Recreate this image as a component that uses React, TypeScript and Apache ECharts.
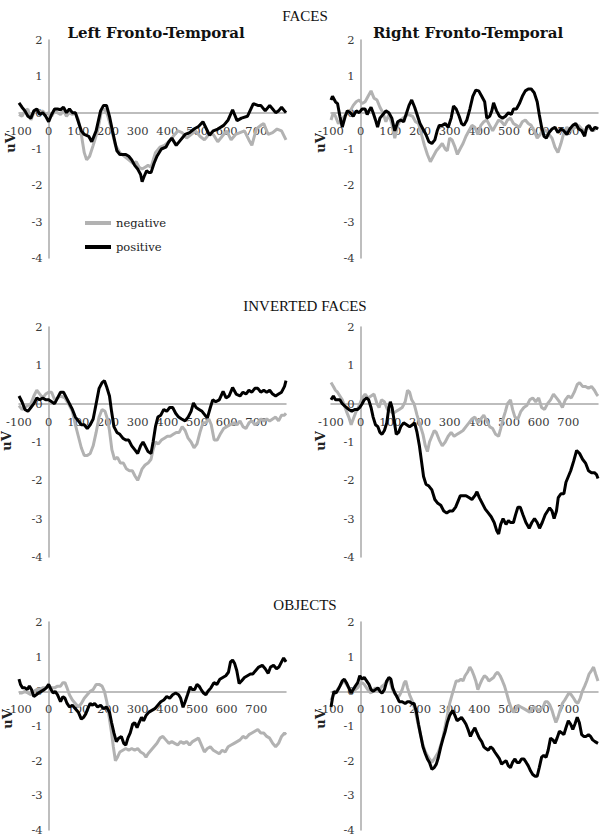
import React, { useEffect, useRef } from 'react';
import * as echarts from 'echarts';

// ---------- data (time in ms, amplitude in uV) ----------
const sectionTitles = ['FACES', 'INVERTED FACES', 'OBJECTS'];
const columnTitles = ['Left Fronto-Temporal', 'Right Fronto-Temporal'];
const seriesNames = ['negative', 'positive'];
const yTicks = [2, 1, 0, -1, -2, -3, -4];
const xTicks = [-100, 0, 100, 200, 300, 400, 500, 600, 700];
const X_MAX = 800;

const facesLeftNeg = [[-100,-0.05],[-90,-0.1],[-80,0.05],[-70,0.1],[-60,-0.2],[-50,0.0],[-40,0.1],[-30,0.0],[-20,0.05],[-10,-0.05],[0,0.0],[10,-0.1],[20,0.05],[30,0.0],[40,-0.05],[50,0.05],[60,-0.1],[70,0.0],[80,-0.05],[90,0.0],[100,-0.2],[110,-0.6],[120,-1.1],[128,-1.3],[138,-1.2],[150,-0.9],[165,-0.5],[178,0.05],[188,0.1],[198,-0.05],[210,-0.4],[225,-0.9],[240,-1.1],[255,-1.2],[270,-1.3],[285,-1.4],[295,-1.35],[305,-1.5],[315,-1.55],[325,-1.5],[335,-1.45],[345,-1.5],[360,-1.1],[375,-0.95],[390,-0.9],[405,-0.8],[420,-0.65],[435,-0.5],[450,-0.55],[465,-0.7],[480,-0.6],[495,-0.5],[510,-0.65],[525,-0.75],[540,-0.6],[555,-0.6],[570,-0.8],[585,-0.65],[600,-0.5],[615,-0.75],[630,-0.6],[645,-0.55],[660,-0.5],[675,-0.75],[685,-0.9],[700,-0.45],[715,-0.35],[725,-0.3],[740,-0.6],[755,-0.55],[770,-0.45],[785,-0.5],[800,-0.75]];
const facesLeftPos = [[-100,0.27],[-90,0.15],[-80,0.05],[-70,-0.1],[-60,-0.15],[-50,0.05],[-40,0.1],[-30,-0.05],[-20,0.0],[-10,-0.1],[0,-0.25],[10,-0.05],[20,0.1],[30,0.1],[40,0.08],[50,0.15],[60,0.0],[70,0.1],[80,0.0],[90,0.0],[100,-0.25],[110,-0.5],[120,-0.6],[135,-0.65],[145,-0.8],[160,-0.5],[175,0.05],[185,0.2],[195,0.2],[205,-0.1],[215,-0.5],[230,-1.05],[240,-1.15],[250,-1.15],[260,-1.15],[270,-1.2],[280,-1.3],[290,-1.45],[300,-1.55],[310,-1.7],[315,-1.9],[322,-1.75],[330,-1.6],[338,-1.65],[345,-1.65],[355,-1.4],[365,-1.2],[380,-1.0],[395,-0.95],[405,-0.8],[415,-0.7],[430,-0.9],[445,-0.75],[460,-0.6],[475,-0.55],[490,-0.45],[505,-0.38],[520,-0.25],[532,-0.45],[542,-0.62],[555,-0.5],[570,-0.45],[590,-0.35],[605,-0.2],[620,0.08],[635,-0.22],[650,-0.15],[670,-0.1],[690,0.25],[705,0.2],[715,0.2],[730,0.05],[745,0.2],[755,0.1],[765,0.0],[775,0.05],[785,0.15],[795,0.05],[800,0.0]];

const facesRightNeg = [[-100,-0.2],[-92,0.0],[-85,-0.1],[-75,-0.3],[-65,-0.2],[-55,-0.1],[-45,0.0],[-35,0.05],[-25,0.2],[-15,0.3],[-5,0.35],[5,0.25],[15,0.3],[25,0.45],[35,0.6],[45,0.4],[55,0.35],[65,0.15],[75,0.0],[85,-0.25],[95,-0.05],[105,-0.3],[115,-0.7],[125,-0.35],[135,-0.2],[150,-0.1],[160,-0.05],[175,-0.1],[185,-0.25],[195,-0.3],[205,-0.6],[215,-0.9],[225,-1.15],[235,-1.35],[245,-1.2],[255,-1.05],[265,-0.95],[275,-0.85],[285,-1.0],[292,-1.05],[300,-0.7],[308,-0.75],[318,-0.95],[326,-1.15],[335,-1.0],[345,-0.85],[355,-0.65],[365,-0.5],[375,-0.35],[385,-0.4],[395,-0.6],[405,-0.35],[415,-0.25],[425,-0.2],[435,-0.35],[445,-0.5],[455,-0.35],[465,-0.2],[475,-0.25],[485,-0.35],[495,-0.2],[505,-0.15],[515,-0.3],[525,-0.35],[535,-0.4],[545,-0.25],[555,-0.2],[565,-0.3],[575,-0.35],[585,-0.5],[595,-0.7],[605,-0.6],[615,-0.45],[625,-0.5],[635,-0.6],[645,-0.7],[655,-0.95],[665,-1.1],[675,-0.85],[685,-0.55],[695,-0.4],[705,-0.5],[715,-0.45],[725,-0.4],[735,-0.35],[745,-0.45],[755,-0.5],[765,-0.4],[775,-0.45],[785,-0.5],[795,-0.4],[800,-0.45]];
const facesRightPos = [[-100,0.35],[-95,0.45],[-85,0.3],[-78,0.25],[-70,-0.1],[-62,-0.4],[-52,-0.1],[-45,0.05],[-35,0.0],[-25,-0.1],[-15,0.05],[-5,0.0],[5,0.1],[15,0.1],[22,-0.05],[28,0.05],[35,0.15],[42,0.0],[50,-0.2],[57,-0.4],[65,-0.15],[75,-0.05],[85,0.05],[95,0.0],[105,-0.15],[115,-0.5],[125,-0.25],[135,-0.2],[145,-0.25],[155,0.0],[163,0.2],[172,0.35],[182,0.15],[192,-0.1],[200,-0.3],[210,-0.45],[220,-0.6],[230,-0.8],[240,-0.85],[250,-0.75],[258,-0.5],[265,-0.35],[275,-0.35],[285,-0.3],[295,-0.4],[305,-0.15],[313,0.18],[322,0.1],[332,-0.1],[340,-0.3],[348,-0.35],[358,-0.2],[368,0.1],[378,0.45],[388,0.62],[398,0.6],[408,0.45],[418,0.3],[425,-0.15],[435,-0.1],[442,0.05],[448,0.27],[458,0.05],[468,-0.1],[478,-0.15],[488,-0.1],[498,0.0],[508,-0.05],[515,0.1],[525,0.1],[535,0.25],[545,0.45],[555,0.6],[565,0.65],[575,0.65],[585,0.55],[595,0.3],[602,-0.05],[610,-0.4],[618,-0.65],[626,-0.7],[635,-0.55],[645,-0.45],[655,-0.4],[665,-0.55],[675,-0.45],[685,-0.5],[695,-0.6],[705,-0.45],[715,-0.35],[725,-0.3],[735,-0.45],[745,-0.5],[755,-0.65],[762,-0.4],[770,-0.35],[780,-0.5],[790,-0.4],[800,-0.45]];

const invLeftNeg = [[-100,-0.05],[-90,-0.15],[-80,-0.1],[-70,-0.05],[-60,0.0],[-50,0.2],[-40,0.35],[-30,0.25],[-20,0.15],[-10,0.25],[0,0.3],[10,0.3],[20,0.1],[30,0.15],[40,0.2],[55,0.15],[70,-0.05],[80,-0.2],[90,-0.55],[100,-0.85],[110,-1.15],[120,-1.35],[130,-1.35],[140,-1.3],[150,-1.1],[160,-0.75],[170,-0.35],[180,-0.15],[190,-0.2],[198,-0.4],[205,-0.7],[213,-1.2],[222,-1.45],[232,-1.4],[242,-1.55],[252,-1.55],[262,-1.7],[272,-1.75],[282,-1.75],[292,-1.9],[300,-2.0],[308,-1.85],[315,-1.7],[325,-1.6],[335,-1.55],[345,-1.45],[352,-1.2],[360,-1.0],[370,-1.05],[380,-0.95],[390,-0.9],[400,-0.85],[410,-0.85],[420,-0.8],[430,-0.75],[440,-0.75],[450,-0.6],[460,-0.7],[470,-0.9],[480,-1.0],[490,-1.15],[500,-1.05],[510,-0.75],[520,-0.5],[530,-0.5],[540,-0.4],[548,-0.55],[558,-0.95],[568,-0.95],[578,-0.8],[590,-0.65],[600,-0.6],[612,-0.55],[625,-0.5],[635,-0.55],[645,-0.45],[655,-0.6],[665,-0.65],[675,-0.5],[685,-0.45],[695,-0.55],[705,-0.5],[715,-0.4],[725,-0.45],[735,-0.4],[745,-0.45],[755,-0.4],[765,-0.35],[775,-0.45],[785,-0.3],[795,-0.3],[800,-0.25]];
const invLeftPos = [[-100,0.2],[-90,0.05],[-80,-0.15],[-70,-0.2],[-60,-0.1],[-50,0.0],[-40,0.15],[-30,0.1],[-20,0.15],[-10,0.1],[0,0.1],[10,0.05],[20,0.0],[30,0.15],[40,0.3],[50,0.3],[60,0.15],[70,0.0],[80,-0.15],[90,-0.35],[100,-0.45],[110,-0.55],[120,-0.55],[130,-0.65],[140,-0.55],[150,-0.4],[160,0.0],[170,0.4],[180,0.55],[188,0.6],[195,0.45],[205,0.2],[212,-0.2],[220,-0.6],[230,-0.75],[240,-0.8],[250,-0.9],[260,-0.95],[270,-0.95],[280,-1.1],[290,-1.2],[300,-1.3],[310,-1.1],[318,-1.0],[325,-1.1],[335,-1.25],[345,-1.3],[352,-1.0],[360,-0.6],[368,-0.35],[378,-0.3],[388,-0.15],[398,-0.2],[408,-0.1],[418,-0.1],[428,-0.25],[438,-0.35],[448,-0.4],[460,-0.45],[470,-0.35],[480,-0.2],[488,0.02],[497,-0.1],[507,-0.15],[517,-0.2],[527,-0.3],[535,-0.37],[545,-0.1],[553,0.1],[563,0.05],[575,0.1],[588,0.32],[598,0.15],[608,0.2],[620,0.42],[632,0.25],[645,0.2],[655,0.3],[665,0.25],[675,0.35],[685,0.3],[695,0.4],[705,0.4],[715,0.3],[725,0.35],[735,0.3],[745,0.35],[755,0.25],[765,0.2],[775,0.25],[785,0.3],[795,0.45],[800,0.6]];

const invRightNeg = [[-100,0.55],[-92,0.45],[-85,0.35],[-78,0.3],[-70,0.2],[-62,0.1],[-55,-0.05],[-48,-0.2],[-40,-0.35],[-32,-0.55],[-25,-0.4],[-15,-0.2],[-5,-0.05],[5,0.15],[15,0.25],[25,0.15],[35,0.2],[45,0.25],[55,0.0],[62,-0.1],[70,0.1],[80,0.05],[90,-0.15],[100,-0.2],[110,-0.25],[120,-0.2],[130,-0.15],[140,-0.1],[150,0.05],[158,0.35],[165,0.3],[172,0.1],[180,0.0],[190,-0.3],[200,-0.55],[210,-0.8],[218,-1.1],[225,-1.25],[232,-1.0],[240,-0.85],[248,-0.7],[255,-0.75],[265,-0.95],[275,-1.1],[285,-1.0],[295,-0.85],[305,-0.75],[315,-0.85],[325,-0.8],[335,-0.75],[345,-0.7],[355,-0.6],[365,-0.5],[375,-0.4],[385,-0.35],[395,-0.5],[405,-0.4],[415,-0.3],[425,-0.45],[435,-0.6],[445,-0.65],[455,-0.8],[465,-0.85],[472,-0.65],[480,-0.4],[488,-0.2],[495,0.0],[505,0.1],[512,-0.15],[520,-0.35],[530,-0.4],[540,-0.2],[550,-0.1],[560,-0.05],[570,0.1],[580,0.15],[590,0.05],[600,0.15],[610,-0.1],[620,-0.15],[630,0.0],[640,0.1],[650,0.25],[660,0.15],[670,0.05],[680,-0.1],[690,0.1],[700,0.2],[710,0.15],[720,0.3],[730,0.5],[738,0.55],[748,0.45],[758,0.45],[768,0.4],[778,0.45],[788,0.35],[795,0.25],[800,0.2]];
const invRightPos = [[-100,0.1],[-92,0.2],[-85,0.1],[-78,0.1],[-70,0.1],[-62,0.0],[-55,-0.05],[-48,-0.1],[-40,-0.15],[-30,-0.2],[-20,-0.15],[-10,-0.15],[-3,-0.1],[5,0.0],[12,0.1],[20,0.15],[27,0.1],[35,-0.1],[42,-0.35],[50,-0.55],[58,-0.6],[65,-0.75],[72,-0.8],[80,-0.7],[88,-0.5],[95,-0.1],[100,0.05],[106,-0.1],[112,-0.4],[120,-0.8],[128,-0.75],[135,-0.6],[145,-0.5],[155,-0.55],[165,-0.6],[175,-0.55],[182,-0.5],[190,-0.75],[198,-1.1],[205,-1.5],[212,-1.9],[220,-2.1],[230,-2.15],[240,-2.25],[250,-2.5],[260,-2.6],[270,-2.65],[280,-2.8],[290,-2.85],[300,-2.8],[310,-2.8],[320,-2.7],[328,-2.55],[336,-2.4],[345,-2.4],[355,-2.4],[365,-2.45],[375,-2.5],[385,-2.4],[392,-2.3],[400,-2.45],[410,-2.6],[420,-2.75],[430,-2.85],[440,-2.95],[450,-3.1],[458,-3.3],[465,-3.4],[472,-3.15],[480,-3.0],[490,-3.15],[498,-3.05],[505,-3.1],[515,-3.1],[522,-2.9],[530,-2.7],[538,-2.7],[547,-2.9],[557,-3.1],[568,-3.25],[577,-3.1],[586,-3.0],[595,-3.1],[603,-3.25],[612,-3.1],[622,-2.9],[630,-2.8],[637,-2.72],[645,-2.8],[652,-3.0],[660,-2.8],[666,-2.45],[675,-2.35],[685,-2.35],[692,-2.05],[700,-1.9],[708,-1.75],[718,-1.5],[728,-1.22],[738,-1.3],[748,-1.45],[758,-1.55],[768,-1.75],[778,-1.8],[788,-1.8],[795,-1.85],[800,-1.95]];

const objLeftNeg = [[-100,-0.05],[-90,-0.05],[-80,0.0],[-70,-0.05],[-60,-0.1],[-50,0.0],[-40,0.05],[-30,0.05],[-20,0.1],[-10,0.1],[0,0.15],[10,0.1],[20,0.1],[30,0.15],[40,0.15],[48,0.25],[55,0.25],[62,0.1],[70,-0.1],[80,-0.25],[90,-0.35],[100,-0.45],[110,-0.35],[120,-0.2],[130,-0.1],[140,0.0],[150,0.05],[160,0.2],[170,0.2],[180,0.15],[188,0.0],[196,-0.3],[204,-0.75],[212,-1.2],[218,-1.6],[225,-2.0],[232,-1.9],[240,-1.75],[250,-1.7],[260,-1.65],[270,-1.7],[280,-1.65],[290,-1.7],[300,-1.65],[310,-1.75],[320,-1.8],[328,-1.9],[335,-1.8],[345,-1.7],[355,-1.6],[365,-1.5],[375,-1.35],[385,-1.3],[395,-1.4],[405,-1.5],[415,-1.45],[425,-1.5],[435,-1.55],[445,-1.45],[455,-1.5],[465,-1.45],[475,-1.55],[485,-1.45],[495,-1.4],[505,-1.35],[515,-1.55],[525,-1.75],[535,-1.65],[545,-1.6],[555,-1.7],[565,-1.75],[575,-1.8],[585,-1.7],[595,-1.75],[605,-1.6],[615,-1.55],[625,-1.5],[635,-1.45],[645,-1.4],[655,-1.3],[665,-1.35],[675,-1.25],[685,-1.2],[695,-1.15],[705,-1.1],[715,-1.2],[725,-1.2],[735,-1.3],[745,-1.35],[755,-1.5],[765,-1.6],[775,-1.5],[785,-1.3],[795,-1.2],[800,-1.25]];
const objLeftPos = [[-100,0.35],[-95,0.2],[-88,0.1],[-80,0.1],[-72,0.05],[-65,0.15],[-58,0.05],[-50,-0.15],[-42,-0.1],[-35,-0.05],[-25,0.0],[-15,0.05],[-8,0.1],[0,0.2],[8,0.05],[15,-0.05],[22,0.0],[30,-0.1],[40,-0.3],[48,-0.15],[55,-0.2],[62,-0.35],[70,-0.45],[80,-0.4],[90,-0.5],[100,-0.6],[110,-0.8],[118,-0.75],[125,-0.65],[132,-0.5],[140,-0.35],[148,-0.4],[155,-0.35],[165,-0.45],[175,-0.4],[185,-0.5],[195,-0.45],[205,-0.6],[212,-0.9],[220,-1.2],[228,-1.45],[236,-1.35],[245,-1.3],[253,-1.5],[260,-1.55],[267,-1.35],[275,-1.2],[283,-0.95],[290,-0.9],[298,-1.05],[305,-0.9],[313,-0.75],[320,-0.85],[328,-0.7],[338,-0.6],[348,-0.55],[358,-0.5],[368,-0.4],[378,-0.3],[388,-0.25],[398,-0.15],[408,-0.2],[418,-0.1],[428,-0.05],[438,-0.1],[445,-0.2],[453,-0.46],[460,-0.3],[468,-0.1],[477,0.13],[484,0.05],[492,0.05],[500,0.2],[507,0.15],[514,0.05],[522,-0.05],[530,-0.1],[537,0.0],[547,0.1],[557,0.25],[567,0.2],[577,0.35],[587,0.4],[597,0.45],[606,0.55],[613,0.85],[620,0.9],[627,0.8],[634,0.6],[642,0.23],[650,0.3],[660,0.4],[670,0.45],[680,0.5],[688,0.5],[698,0.6],[708,0.7],[720,0.75],[730,0.65],[740,0.52],[748,0.7],[758,0.75],[768,0.65],[776,0.7],[785,0.85],[792,0.96],[800,0.85]];

const objRightNeg = [[-100,-0.25],[-92,-0.1],[-85,-0.05],[-78,0.05],[-70,0.15],[-62,0.25],[-55,0.3],[-48,0.2],[-40,0.1],[-32,0.05],[-25,0.0],[-18,0.05],[-10,0.1],[-3,0.2],[5,0.25],[12,0.2],[20,0.1],[28,0.0],[35,-0.05],[42,0.05],[50,0.1],[58,0.05],[65,0.05],[72,0.15],[80,0.2],[88,0.3],[95,0.35],[102,0.2],[110,0.0],[118,-0.1],[125,-0.2],[132,-0.1],[140,0.05],[147,0.25],[152,0.3],[158,0.1],[165,-0.1],[175,-0.3],[185,-0.6],[195,-1.0],[203,-1.3],[210,-1.55],[218,-1.75],[225,-1.85],[232,-1.95],[240,-2.05],[248,-1.95],[255,-1.85],[262,-1.75],[270,-1.55],[278,-1.3],[285,-1.0],[292,-0.7],[300,-0.35],[308,-0.1],[315,0.1],[322,0.3],[330,0.3],[338,0.35],[345,0.3],[352,0.45],[360,0.55],[368,0.7],[375,0.6],[382,0.45],[388,0.3],[395,0.05],[402,0.2],[410,0.35],[417,0.45],[425,0.4],[432,0.3],[440,0.35],[448,0.4],[455,0.5],[462,0.55],[470,0.45],[478,0.3],[485,0.15],[492,-0.05],[500,-0.3],[508,-0.5],[515,-0.6],[522,-0.55],[530,-0.4],[540,-0.45],[550,-0.5],[560,-0.55],[570,-0.6],[578,-0.5],[585,-0.45],[593,-0.5],[600,-0.55],[608,-0.5],[615,-0.45],[622,-0.3],[630,-0.3],[638,-0.4],[645,-0.55],[652,-0.75],[658,-0.9],[665,-0.75],[672,-0.55],[680,-0.35],[688,-0.25],[695,-0.15],[702,-0.05],[710,-0.1],[718,-0.2],[725,-0.3],[732,-0.35],[740,-0.2],[747,0.0],[755,0.15],[762,0.3],[770,0.5],[778,0.6],[785,0.7],[792,0.5],[800,0.3]];
const objRightPos = [[-100,-0.45],[-95,-0.2],[-90,0.0],[-83,-0.05],[-76,0.05],[-70,0.15],[-62,0.3],[-55,0.35],[-48,0.25],[-40,0.1],[-32,-0.05],[-25,0.05],[-18,0.15],[-10,0.25],[-3,0.45],[5,0.35],[12,0.4],[20,0.3],[28,0.2],[35,0.05],[42,0.0],[50,0.05],[58,0.1],[65,0.0],[72,-0.05],[80,0.05],[88,0.3],[95,0.4],[102,0.35],[108,0.1],[115,-0.05],[122,-0.15],[130,-0.3],[140,-0.3],[150,-0.35],[158,-0.3],[165,-0.3],[172,-0.35],[180,-0.35],[188,-0.6],[195,-0.95],[203,-1.3],[210,-1.6],[218,-1.8],[225,-1.95],[232,-2.05],[240,-2.25],[248,-2.2],[255,-2.1],[262,-1.9],[270,-1.6],[278,-1.35],[285,-1.15],[292,-0.9],[300,-0.7],[310,-0.55],[318,-0.7],[325,-0.85],[333,-0.8],[340,-0.75],[348,-0.85],[355,-0.95],[362,-1.1],[370,-1.3],[378,-1.15],[385,-1.05],[392,-1.2],[400,-1.35],[408,-1.45],[415,-1.6],[422,-1.65],[430,-1.7],[438,-1.6],[445,-1.65],[452,-1.75],[460,-1.85],[468,-1.95],[475,-2.1],[482,-2.05],[490,-2.0],[498,-2.15],[505,-2.2],[512,-2.05],[520,-1.95],[527,-2.05],[535,-2.05],[542,-1.95],[550,-1.95],[558,-2.05],[565,-2.15],[573,-2.3],[580,-2.4],[588,-2.45],[595,-2.45],[602,-2.2],[610,-1.9],[617,-1.85],[625,-1.9],[632,-1.7],[640,-1.35],[648,-1.4],[655,-1.5],[662,-1.35],[670,-1.15],[678,-1.2],[685,-1.25],[692,-1.05],[700,-0.85],[708,-0.95],[715,-1.1],[722,-0.95],[730,-0.75],[737,-0.9],[745,-1.25],[752,-1.3],[760,-1.3],[768,-1.25],[775,-1.3],[782,-1.4],[790,-1.45],[800,-1.5]];

const panelNeg = [facesLeftNeg, facesRightNeg, invLeftNeg, invRightNeg, objLeftNeg, objRightNeg];
const panelPos = [facesLeftPos, facesRightPos, invLeftPos, invRightPos, objLeftPos, objRightPos];

// ---------- layout ----------
const ROW_TOP = [40, 327, 622];
const ROW_H = [218, 230, 208];
const COL_LEFT = [19, 331];
const PLOT_W = 267;
const UV_POS = [[10, 143], [320, 143], [6, 441], [320, 441], [7, 719], [320, 719]];
const SECTION_Y = [3, 293, 592];

const GRAY = '#b2b2b2';
const AXIS = '#a8a8a8';
const SERIF = '"DejaVu Serif", serif';
const TIMES = '"Liberation Serif", "Times New Roman", serif';

export default function App() {
  const ref = useRef<HTMLDivElement>(null);
  useEffect(() => {
    document.body.style.margin = '0';
    if (!ref.current) return;
    const chart = echarts.init(ref.current, undefined, { renderer: 'svg' });
    const grids: any[] = [];
    const xAxes: any[] = [];
    const yAxes: any[] = [];
    const series: any[] = [];
    const graphics: any[] = [];
    const yMin = yTicks[yTicks.length - 1];
    const yMax = yTicks[0];
    const xMin = xTicks[0];
    for (let i = 0; i < 6; i++) {
      const r = Math.floor(i / 2);
      const c = i % 2;
      // place the axes through the origin (Excel style), labels included
      const xOff = -ROW_H[r] * (0 - yMin) / (yMax - yMin);
      const yOff = -PLOT_W * (0 - xMin) / (X_MAX - xMin);
      grids.push({ left: COL_LEFT[c], top: ROW_TOP[r], width: PLOT_W, height: ROW_H[r], containLabel: false });
      xAxes.push({
        type: 'value', gridIndex: i, min: xMin, max: X_MAX, interval: 100, position: 'bottom', offset: xOff,
        axisLine: { onZero: false, lineStyle: { color: AXIS, width: 1.5 } },
        axisTick: { show: false }, splitLine: { show: false },
        axisLabel: { showMaxLabel: false, margin: 12, color: '#3a3a3a', fontFamily: SERIF, fontSize: 11.5 },
      });
      yAxes.push({
        type: 'value', gridIndex: i, min: yMin, max: yMax, interval: 1, position: 'left', offset: yOff,
        axisLine: { show: true, onZero: false, lineStyle: { color: AXIS, width: 1.5 } },
        axisTick: { show: false }, splitLine: { show: false },
        axisLabel: { margin: 6, color: '#3a3a3a', fontFamily: SERIF, fontSize: 11.5 },
      });
      series.push({
        name: seriesNames[0], type: 'line', xAxisIndex: i, yAxisIndex: i, data: panelNeg[i],
        symbol: 'none', lineStyle: { color: GRAY, width: 3 }, itemStyle: { color: GRAY }, z: 3,
      });
      series.push({
        name: seriesNames[1], type: 'line', xAxisIndex: i, yAxisIndex: i, data: panelPos[i],
        symbol: 'none', lineStyle: { color: '#000', width: 3 }, itemStyle: { color: '#000' }, z: 4,
      });
      graphics.push({
        type: 'text', x: UV_POS[i][0], y: UV_POS[i][1], rotation: Math.PI / 2,
        style: { text: 'uV', fontFamily: SERIF, fontWeight: 'bold', fontSize: 13, fill: '#222', align: 'center', verticalAlign: 'middle' },
      });
    }
    const titles: any[] = sectionTitles.map((t, k) => ({
      text: t, left: 300, top: SECTION_Y[k], textAlign: 'center',
      textStyle: { fontFamily: TIMES, fontWeight: 'normal', fontSize: 15, color: '#111' },
    }));
    columnTitles.forEach((t, k) => {
      titles.push({
        text: t, left: k === 0 ? 151 : 463, top: 20, textAlign: 'center',
        textStyle: { fontFamily: SERIF, fontWeight: 'bold', fontSize: 15, color: '#111' },
      });
    });
    chart.setOption({
      animation: false,
      backgroundColor: '#fff',
      title: titles,
      legend: {
        data: seriesNames, left: 80, top: 211, orient: 'vertical', icon: 'rect',
        itemWidth: 26, itemHeight: 4, itemGap: 10,
        textStyle: { fontFamily: SERIF, fontSize: 11.5, color: '#222', lineHeight: 14 },
      },
      grid: grids, xAxis: xAxes, yAxis: yAxes, series, graphic: graphics,
    });
    return () => chart.dispose();
  }, []);
  return <div ref={ref} style={{ position: 'absolute', left: 0, top: 0, width: 600, height: 838 }} />;
}
